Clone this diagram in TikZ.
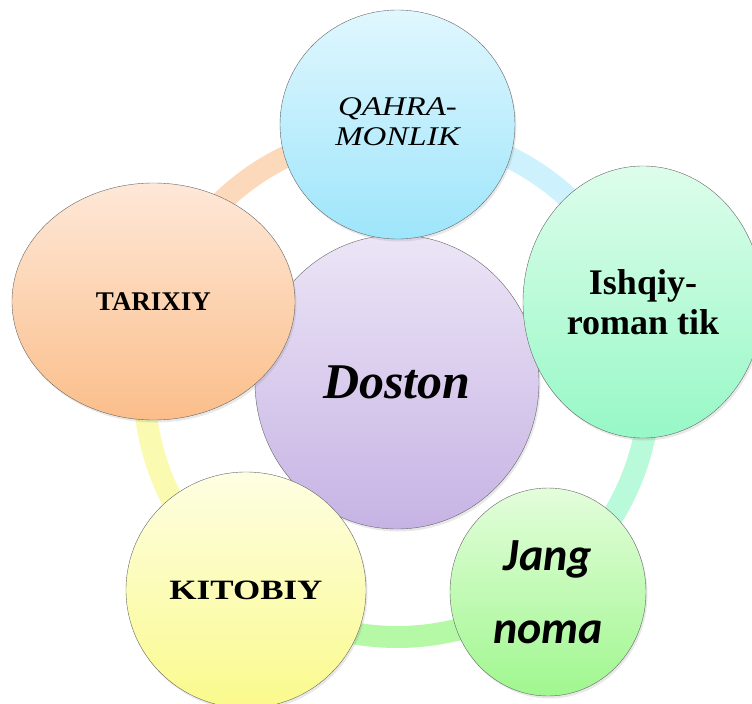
\documentclass[tikz,border=0pt]{standalone}
\usepackage{fontspec}
\setmainfont{Liberation Serif}
\newfontfamily\calfont{Carlito}
\usetikzlibrary{shapes.geometric,shadows}

\definecolor{qahTop}{HTML}{E0F7FE}
\definecolor{qahBot}{HTML}{9EE5FB}
\definecolor{ishTop}{HTML}{DDFDEB}
\definecolor{ishBot}{HTML}{97F8C6}
\definecolor{janTop}{HTML}{E3FDDB}
\definecolor{janBot}{HTML}{A0F78F}
\definecolor{kitTop}{HTML}{FEFEE3}
\definecolor{kitBot}{HTML}{FAFA8C}
\definecolor{tarTop}{HTML}{FEE8D8}
\definecolor{tarBot}{HTML}{FBBE8A}
\definecolor{dosTop}{HTML}{ECE5F6}
\definecolor{dosBot}{HTML}{C6B3E4}

\definecolor{ringTar}{HTML}{FDD9BC}
\definecolor{ringQah}{HTML}{CDF1FD}
\definecolor{ringIsh}{HTML}{B8FADA}
\definecolor{ringJan}{HTML}{B5F8A6}
\definecolor{ringKit}{HTML}{FAFAB0}

\begin{document}
\begin{tikzpicture}[x=1bp, y=-1bp,
  bubble/.style 2 args={ellipse, draw=black!60, thin, inner sep=0pt,
    top color=#1, bottom color=#2,
    drop shadow={opacity=0.18, shadow xshift=1.5bp, shadow yshift=-2.5bp}},
  ring/.style={line width=22bp, draw=#1}]

\useasboundingbox (0,0) rectangle (752,704);

%ring behind the bubbles
\coordinate (hub) at (397,384);
\draw[ring=ringTar] ([shift={(-161:253)}]hub) arc[start angle=-161, end angle=-90, radius=253];
\draw[ring=ringQah] ([shift={(-90:253)}]hub) arc[start angle=-90, end angle=-18, radius=253];
\draw[ring=ringIsh] ([shift={(-18:253)}]hub) arc[start angle=-18, end angle=54, radius=253];
\draw[ring=ringJan] ([shift={(54:253)}]hub) arc[start angle=54, end angle=126, radius=253];
\draw[ring=ringKit] ([shift={(126:253)}]hub) arc[start angle=126, end angle=199, radius=253];

\node[bubble={dosTop}{dosBot}, minimum width=284bp, minimum height=294bp] (doston) at (397,382)
  {\fontsize{50bp}{54bp}\selectfont\bfseries\itshape Doston};

\node[bubble={qahTop}{qahBot}, minimum width=235bp, minimum height=229bp] (qahra) at (397.5,124.5)
  {\fontsize{27bp}{30bp}\selectfont\itshape\scalebox{1.22}[1]{\begin{tabular}{@{}c@{}}QAHRA-\\MONLIK\end{tabular}}};

\node[bubble={ishTop}{ishBot}, minimum width=240bp, minimum height=272bp, align=center,
  font=\fontsize{36bp}{40bp}\selectfont\bfseries] (ishqiy) at (643,302) {Ishqiy-\\roman tik};

\node[bubble={janTop}{janBot}, minimum width=196bp, minimum height=208bp, align=center,
  font=\calfont\fontsize{46bp}{73bp}\selectfont\bfseries\itshape] (jang) at (548,592) {Jang\\noma};

\node[bubble={kitTop}{kitBot}, minimum width=240bp, minimum height=236bp] (kitobiy) at (246,590)
  {\fontsize{28bp}{30bp}\selectfont\bfseries\scalebox{1.25}[1]{KITOBIY}};

\node[bubble={tarTop}{tarBot}, minimum width=283bp, minimum height=237bp] (tarixiy) at (153.5,301.5)
  {\fontsize{27bp}{29bp}\selectfont\bfseries TARIXIY};

\end{tikzpicture}
\end{document}
